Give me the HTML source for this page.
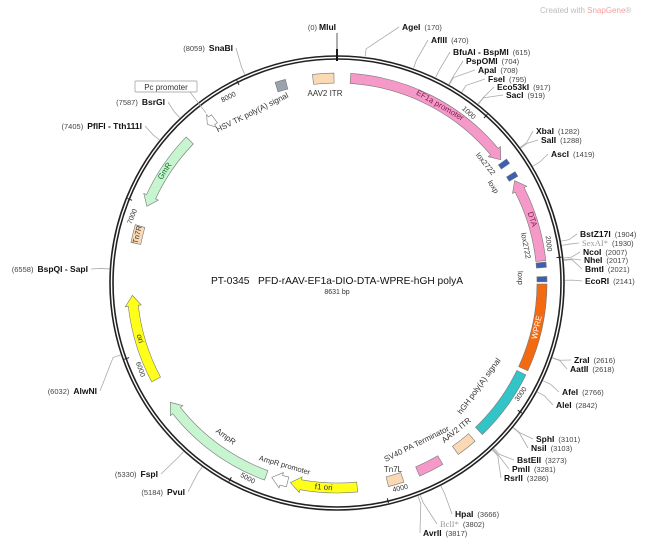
<!DOCTYPE html>
<html><head><meta charset="utf-8">
<style>
html,body{margin:0;padding:0;background:#fff;}
svg{display:block;font-family:"Liberation Sans","DejaVu Sans",sans-serif;}
.nm{font-size:8.5px;font-weight:bold;fill:#111;}
.num{font-size:7.5px;fill:#444;}
</style></head>
<body>
<svg id="map" width="650" height="543" viewBox="0 0 650 543">
<text x="540" y="13" font-size="8" fill="#bbb">Created with <tspan fill="#f2a0a0">SnapGene</tspan>®</text>
<text x="337" y="284" text-anchor="middle" font-size="10.2" fill="#111" xml:space="preserve">PT-0345   PFD-rAAV-EF1a-DIO-DTA-WPRE-hGH polyA</text>
<text x="337" y="294" text-anchor="middle" font-size="7" fill="#333">8631 bp</text>
<g id="ring"></g><g id="feats"></g><g id="sites"></g><g id="labels"></g>
</svg>
<script>
const TOTAL = 8631;
const featNames = ["AAV2 ITR","EF1a promoter","lox2722","loxp","DTA","lox2722b","loxpb","WPRE","hGH poly(A) signal","AAV2 ITR b","SV40 PA Terminator","Tn7L","f1 ori","AmpR promoter","AmpR","ori","Tn7R","GmR","Pc promoter","HSV TK poly(A) signal"];
const featStart = [8470,90,1290,1390,1440,2020,2115,2165,2780,3330,3590,3870,4180,4650,4800,5800,6740,7000,7690,8220];
const featEnd   = [8611,1272,1325,1425,2010,2055,2150,2750,3265,3470,3760,3975,4630,4760,5620,6390,6860,7530,7750,8290];
const featDir   = [0,1,0,0,-1,0,0,0,0,0,0,0,1,1,1,1,0,-1,-1,0];
const featColor = ["#fbd9b5","#f59ac8","#3a5fb5","#3a5fb5","#f59ac8","#3a5fb5","#3a5fb5","#f26a12","#33c4c8","#fbd9b5","#f59ac8","#fbd9b5","#ffff1a","#ffffff","#c6f5cf","#ffff1a","#fbd9b5","#c6f5cf","#ffffff","#9aa3ad"];
const siteNames = ["MluI","AgeI","AflII","BfuAI - BspMI","PspOMI","ApaI","FseI","Eco53kI","SacI","XbaI","SalI","AscI","BstZ17I","SexAI*","NcoI","NheI","BmtI","EcoRI","ZraI","AatII","AfeI","AleI","SphI","NsiI","BstEII","PmlI","RsrII","HpaI","BclI*","AvrII","PvuI","FspI","AlwNI","BspQI - SapI","PflFI - Tth111I","BsrGI","SnaBI"];
const sitePos = [0,170,470,615,704,708,795,917,919,1282,1288,1419,1904,1930,2007,2017,2021,2141,2616,2618,2766,2842,3101,3103,3273,3281,3286,3666,3802,3817,5184,5330,6032,6558,7405,7587,8059];
const siteLX = [319,402,431,453,466,478,488,497,506,536,541,551,580,582,583,584,585,585,574,570,562,556,536,531,517,512,504,455,440,423,185,158,97,88,142,165,233];
const siteLY = [30,30,43,55,64,73,82,90,98,134,143,157,237,246,255,263,272,284,363,372,395,408,442,451,463,472,481,517,527,536,495,477,394,272,129,105,51];
const tickVals = [1000,2000,3000,4000,5000,6000,7000,8000];

const NS="http://www.w3.org/2000/svg", CX=337, CY=283;
function ang(bp){return bp/TOTAL*2*Math.PI;}
function pt(bp,r){const a=ang(bp);return [CX+r*Math.sin(a),CY-r*Math.cos(a)];}
function mk(tag,attrs,parent){const e=document.createElementNS(NS,tag);for(const k in attrs)e.setAttribute(k,attrs[k]);parent.appendChild(e);return e;}
const ring=document.getElementById('ring'),feats=document.getElementById('feats'),sites=document.getElementById('sites'),labels=document.getElementById('labels');

let c1=mk('circle',{cx:CX,cy:CY,r:227,fill:'none',stroke:'#222','stroke-width':1.6},ring);


let c2=mk('circle',{cx:CX,cy:CY,r:224,fill:'none',stroke:'#222','stroke-width':1.6},ring);


let orig=mk('line',{x1:CX,y1:CY-222,x2:CX,y2:CY-234,stroke:'#111','stroke-width':2},ring);



tickVals.forEach(v=>{
  const [x1,y1]=pt(v,221),[x2,y2]=pt(v,226);
  const t=mk('line',{x1,y1,x2,y2,stroke:'#222','stroke-width':1},ring);
  
  
  const deg=v/TOTAL*360;
  const rot=(deg>90&&deg<270)?deg-180:(deg>270?deg-360:deg);
  const [lx,ly]=pt(v-95,215);
  const tx=mk('text',{x:lx,y:ly,'font-size':7,fill:'#333','text-anchor':'middle','dominant-baseline':'middle',transform:`rotate(${rot} ${lx} ${ly})`},ring);
  tx.textContent=v;
  
  
});

function arcPath(s,e,r1,r2,dir){
  const span=e-s, head=Math.min(dir?70:0, span*0.6);
  let p='';
  const large=(x)=>x/TOTAL>0.5?1:0;
  if(dir===1){
    const be=e-head;
    const a=pt(s,r2),b=pt(be,r2),c=pt(be,r2+3),d=pt(e,(r1+r2)/2),f=pt(be,r1-3),g=pt(be,r1),h=pt(s,r1);
    p=`M${a}A${r2},${r2} 0 ${large(be-s)} 1 ${b}L${c}L${d}L${f}L${g}A${r1},${r1} 0 ${large(be-s)} 0 ${h}Z`;
  } else if(dir===-1){
    const bs=s+head;
    const d=pt(s,(r1+r2)/2),c=pt(bs,r2+3),a=pt(bs,r2),b=pt(e,r2),g=pt(e,r1),h=pt(bs,r1),f=pt(bs,r1-3);
    p=`M${d}L${c}L${a}A${r2},${r2} 0 ${large(e-bs)} 1 ${b}L${g}A${r1},${r1} 0 ${large(e-bs)} 0 ${h}L${f}Z`;
  } else {
    const a=pt(s,r2),b=pt(e,r2),g=pt(e,r1),h=pt(s,r1);
    p=`M${a}A${r2},${r2} 0 ${large(e-s)} 1 ${b}L${g}A${r1},${r1} 0 ${large(e-s)} 0 ${h}Z`;
  }
  return p.replace(/,/g,' ');
}
featNames.forEach((n,i)=>{
  const p=mk('path',{d:arcPath(featStart[i],featEnd[i],200,210,featDir[i]),fill:featColor[i],stroke:'#777','stroke-width':0.6},feats);
  
  
});

function onArc(txt,bp,r,fill,size,name){
  const deg=bp/TOTAL*360;
  const rot=(deg>90&&deg<270)?deg-180:(deg>270?deg-360:deg);
  const [x,y]=pt(bp,r);
  const t=mk('text',{x,y,'font-size':size||8,fill:fill||'#333','text-anchor':'middle','dominant-baseline':'middle',transform:`rotate(${rot} ${x} ${y})`},labels);
  t.textContent=txt;
  
  
}
onArc('EF1a promoter',(featStart[1]+featEnd[1])/2+40,205,'#7a1d4c',8,'ef1a-label');
onArc('DTA',(featStart[4]+featEnd[4])/2,205,'#7a1d4c',8,'dta-label');
onArc('WPRE',(featStart[7]+featEnd[7])/2,205,'#fff',8,'wpre-label');
onArc('f1 ori',(featStart[12]+featEnd[12])/2,205,'#333',8,'f1-ori-label');
onArc('ori',(featStart[15]+featEnd[15])/2,205,'#333',8,'ori-label');
onArc('GmR',(featStart[17]+featEnd[17])/2,205,'#1d6b2e',8,'gmr-label');
onArc('Tn7R',(featStart[16]+featEnd[16])/2,205,'#333',7.5,'tn7r-label');
onArc('AmpR',5177,190,'#333',8,'ampr-label');
onArc('AmpR promoter',4700,190,'#333',7.5,'ampr-promoter-label');
onArc('lox2722',1230,190,'#333',7.5,'lox2722-label');
onArc('loxp',1400,183,'#333',7.5,'loxp-label');
onArc('lox2722',1890,192,'#333',7.5,'lox2722-2-label');
onArc('loxp',2120,183,'#333',7.5,'loxp-2-label');
onArc('hGH poly(A) signal',3020,176,'#333',8,'hgh-polya-label');
onArc('AAV2 ITR',3380,190,'#333',8,'aav2-itr-2-label');
onArc('SV40 PA Terminator',3685,180,'#333',8,'sv40-label');
onArc('HSV TK poly(A) signal',7998,190,'#333',8,'hsv-tk-label');
function plain(txt,x,y,name,size){const t=mk('text',{x,y,'font-size':size||8,fill:'#333','text-anchor':'middle'},labels);t.textContent=txt;return t;}
plain('AAV2 ITR',325,96,'aav2-itr-label');
plain('Tn7L',393,472,'tn7l-label');
const pcr=mk('rect',{x:135,y:81,width:62,height:11,fill:'#fff',stroke:'#999','stroke-width':0.7,rx:1},labels);


plain('Pc promoter',166,90,'pc-promoter-label');
const pl=mk('line',{x1:190,y1:92,x2:206,y2:113,stroke:'#aaa','stroke-width':0.7},labels);



siteNames.forEach((n,i)=>{
  const bp=sitePos[i];
  const left=bp>TOTAL/2;
  const [x1,y1]=pt(bp,228);
  const [xm,ym]=pt(bp,236);
  let tx=siteLX[i], ty=siteLY[i];
  let ex = left? tx+3 : tx-3, ey=ty-3;
  if(i===0){ex=CX;ey=ty+3;}
  const g=mk('g',{},sites);
  
  
  mk('polyline',{points:`${x1},${y1} ${xm},${ym} ${ex},${ey}`,fill:'none',stroke:i===0?'#333':'#aaa','stroke-width':0.8},g);
  const gray=n.endsWith('*');
  if(i===0){
    const t=mk('text',{x:tx-2,y:ty,'text-anchor':'end'},g);t.setAttribute('class','num');t.textContent='(0)';
    const t2=mk('text',{x:tx,y:ty},g);t2.setAttribute('class','nm');t2.textContent=n;
  } else if(!left){
    const t=mk('text',{x:tx,y:ty},g);
    const a=mk('tspan',{},t);a.setAttribute('class','nm');a.textContent=n;
    if(gray){a.setAttribute('style','fill:#999;font-weight:normal;font-family:"Liberation Serif",serif');}
    const b=mk('tspan',{dx:4},t);b.setAttribute('class','num');b.textContent='('+bp+')';
  } else {
    const t=mk('text',{x:tx,y:ty,'text-anchor':'end'},g);
    const b=mk('tspan',{},t);b.setAttribute('class','num');b.textContent='('+bp+')';
    const a=mk('tspan',{dx:4},t);a.setAttribute('class','nm');a.textContent=n;
  }
});
</script>
</body></html>
